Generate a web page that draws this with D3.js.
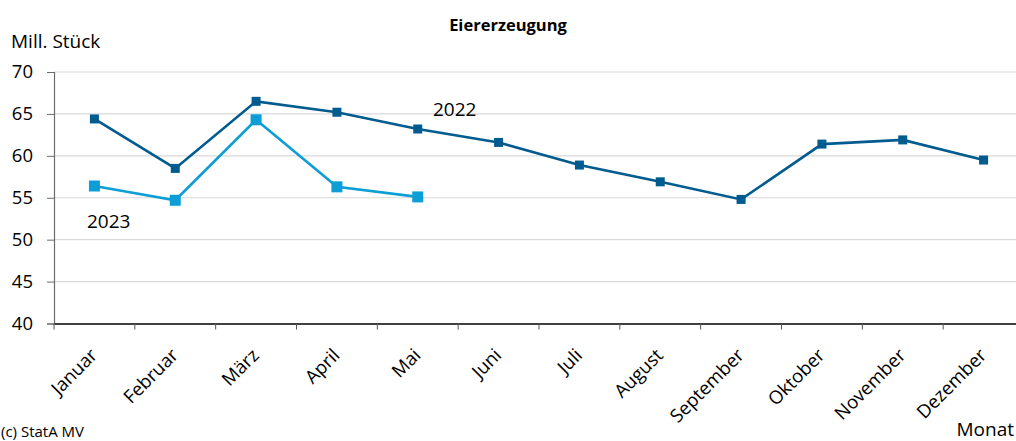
<!DOCTYPE html>
<html><head><meta charset="utf-8">
<script src="https://cdn.jsdelivr.net/npm/d3@7"></script>
<style>
html,body{margin:0;padding:0;background:#fff;overflow:hidden;}
svg{display:block;}
text{font-family:"Open Sans",sans-serif;fill:#000;}
</style></head>
<body><svg id="c" width="1016" height="441"></svg>
<script>
const months = ["Januar","Februar","März","April","Mai","Juni","Juli","August","September","Oktober","November","Dezember"];
const values2022 = [64.4,58.5,66.5,65.2,63.2,61.6,58.9,56.9,54.8,61.4,61.9,59.5];
const values2023 = [56.4,54.7,64.3,56.3,55.1];
const yTicks = [40,45,50,55,60,65,70];

(function(){
const svg = d3.select("#c");
const mL = 54, mR = 1024, mT = 72, mB = 323.5;
const x = d3.scaleBand().domain(months).range([mL, mR]);
const y = d3.scaleLinear().domain([40,70]).range([mB, mT]);

// gridlines
svg.append("g").selectAll("line").data(yTicks.filter(d=>d>40)).join("line")
  .attr("x1", mL).attr("x2", 1016)
  .attr("y1", d=>y(d)).attr("y2", d=>y(d))
  .attr("stroke", "#d9d9d9").attr("stroke-width", 1.2);

// y axis
const ya = svg.append("g").attr("transform", `translate(${mL},0)`)
  .call(d3.axisLeft(y).tickValues(yTicks).tickSize(7).tickPadding(14));
ya.select(".domain").attr("stroke", "#6b6b6b").attr("stroke-width", 1.2);
ya.selectAll(".tick line").attr("stroke", "#6b6b6b");
ya.selectAll("text").style("font-size", "18.5px").attr("fill", "#000");

// x axis
const xa = svg.append("g").attr("transform", `translate(0,${mB})`)
  .call(d3.axisBottom(x).tickSize(0).tickSizeOuter(0));
xa.select(".domain").attr("stroke", "#000").attr("stroke-width", 1.3);
xa.append("g").selectAll("line").data(months).join("line")
  .attr("x1", d=>x(d)).attr("x2", d=>x(d)).attr("y1", 0).attr("y2", 6)
  .attr("stroke", "#555");
xa.selectAll(".tick text")
  .style("font-size", "18.5px")
  .attr("text-anchor", "end")
  .attr("dy", null)
  .attr("transform", "translate(4,33) rotate(-45)")
  .attr("y", 0).attr("x", 0);

// lines
const line = d3.line().x((d,i)=>x(months[i]) + x.bandwidth()/2).y(d=>y(d));
svg.append("path").datum(values2022).attr("d", line)
  .attr("fill","none").attr("stroke","#005b8f").attr("stroke-width",2.6);
svg.append("path").datum(values2023).attr("d", line)
  .attr("fill","none").attr("stroke","#0d9ed6").attr("stroke-width",2.6);

svg.append("g").selectAll("rect").data(values2022).join("rect")
  .attr("x",(d,i)=>x(months[i])+x.bandwidth()/2-4.5).attr("y",d=>y(d)-4.5)
  .attr("width",9).attr("height",9).attr("fill","#005b8f");
svg.append("g").selectAll("rect").data(values2023).join("rect")
  .attr("x",(d,i)=>x(months[i])+x.bandwidth()/2-5.5).attr("y",d=>y(d)-5.5)
  .attr("width",11).attr("height",11).attr("fill","#0d9ed6");

// labels
svg.append("text").attr("x", 433).attr("y", 116).style("font-size","19px").text("2022");
svg.append("text").attr("x", 87).attr("y", 228).style("font-size","19px").text("2023");
svg.append("text").attr("x", 508).attr("y", 31).attr("text-anchor","middle")
  .style("font-size","16.5px").style("font-weight","bold").text("Eiererzeugung");
svg.append("text").attr("x", 11).attr("y", 48).style("font-size","19px").text("Mill. Stück");
svg.append("text").attr("x", 1).attr("y", 437).style("font-size","15px").text("(c) StatA MV");
svg.append("text").attr("x", 1014).attr("y", 436).attr("text-anchor","end").style("font-size","19px").text("Monat");
})();
</script></body></html>
